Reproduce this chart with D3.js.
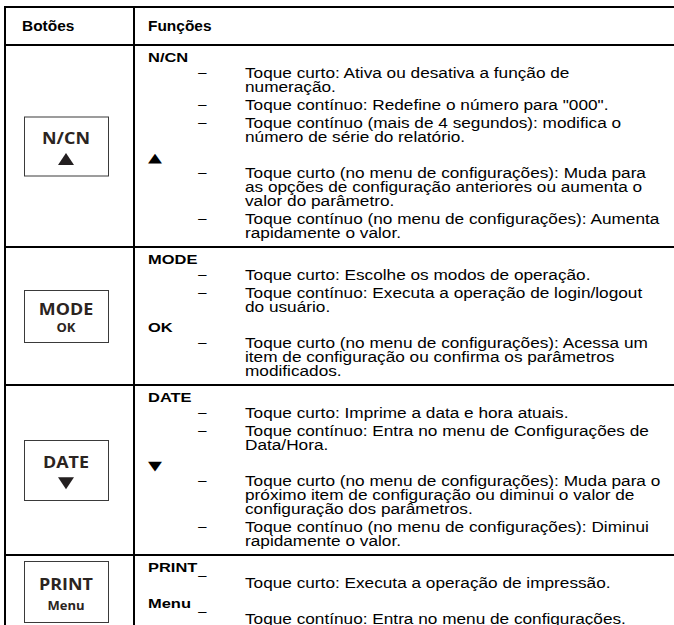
<!DOCTYPE html>
<html><head><meta charset="utf-8">
<script src="https://cdn.jsdelivr.net/npm/d3@7"></script>
<style>html,body{margin:0;padding:0;background:#fff;}svg{display:block;}</style>
</head><body>
<svg id="c" width="674" height="625"></svg>
<script>
// ---------- data ----------
const colHeaders = ["Botões", "Funções"];
const buttonTop = ["N/CN", "MODE", "DATE", "PRINT"];
const buttonBottom = ["▲", "OK", "▼", "Menu"];
const functionKeys = [["N/CN", "▲"], ["MODE", "OK"], ["DATE", "▼"], ["PRINT", "Menu"]];
const functionItems = [
  [
    [["Toque curto: Ativa ou desativa a função de", "numeração."],
     ["Toque contínuo: Redefine o número para \"000\"."],
     ["Toque contínuo (mais de 4 segundos): modifica o", "número de série do relatório."]],
    [["Toque curto (no menu de configurações): Muda para", "as opções de configuração anteriores ou aumenta o", "valor do parâmetro."],
     ["Toque contínuo (no menu de configurações): Aumenta", "rapidamente o valor."]]
  ],
  [
    [["Toque curto: Escolhe os modos de operação."],
     ["Toque contínuo: Executa a operação de login/logout", "do usuário."]],
    [["Toque curto (no menu de configurações): Acessa um", "item de configuração ou confirma os parâmetros", "modificados."]]
  ],
  [
    [["Toque curto: Imprime a data e hora atuais."],
     ["Toque contínuo: Entra no menu de Configurações de", "Data/Hora."]],
    [["Toque curto (no menu de configurações): Muda para o", "próximo item de configuração ou diminui o valor de", "configuração dos parâmetros."],
     ["Toque contínuo (no menu de configurações): Diminui", "rapidamente o valor."]]
  ],
  [
    [["Toque curto: Executa a operação de impressão."]],
    [["Toque contínuo: Entra no menu de configurações."]]
  ]
];

// ---------- layout ----------
const W = 674, H = 625;
const X_LEFT = 5, X_DIV = 134, X_RIGHT = 680;
const Y_TOP = 7, Y_HEAD = 45;
const X_KEY = 148, X_DASH = 197, X_TEXT = 245;
const PAD_TOP = 17, GAP_KEY_ITEM = 16, GAP_ITEM = 18, GAP_CONT = 14, GAP_ITEM_KEY = 20, PAD_BOTTOM = 9;
const BOX_X = 24, BOX_W = 84;
const boxHeights = [59, 52, 60, 61];
const dashRaise = [0, 0, 0, 7];
const FONT = "'Liberation Sans', Arial, Helvetica, sans-serif";
const BTN_FONT = "'Open Sans', 'Noto Sans', sans-serif";
const SX_BODY = 1.23;

const svg = d3.select("#c");
svg.append("rect").attr("width", W).attr("height", H).attr("fill", "#fff");

function stext(g, x, y, str, size, sx, weight, family, fill) {
  return g.append("text")
    .attr("transform", `translate(${x},${y}) scale(${sx},1)`)
    .attr("font-family", family || FONT)
    .attr("font-size", size)
    .attr("font-weight", weight || "normal")
    .attr("fill", fill || "#000")
    .text(str);
}

// compute rows
const rows = [];
let cursor = Y_HEAD;
functionKeys.forEach((keys, r) => {
  const lines = [];
  let y = cursor + PAD_TOP;
  keys.forEach((k, ki) => {
    if (ki > 0) y += GAP_ITEM_KEY;
    lines.push({type: "key", text: k, y});
    functionItems[r][ki].forEach((item, ii) => {
      y += (ii === 0) ? GAP_KEY_ITEM : GAP_ITEM;
      item.forEach((ln, li) => {
        if (li > 0) y += GAP_CONT;
        lines.push({type: li === 0 ? "item" : "cont", text: ln, y});
      });
    });
  });
  const bottom = y + PAD_BOTTOM;
  rows.push({top: cursor, bottom, lines});
  cursor = bottom;
});

const gText = svg.append("g");
// header
stext(gText, 22, 31, colHeaders[0], 15, 1.03, "bold");
stext(gText, X_KEY, 31, colHeaders[1], 15, 1.03, "bold");

rows.forEach((row, r) => {
  row.lines.forEach(l => {
    if (l.type === "key") {
      if (l.text === "▲" || l.text === "▼") {
        stext(gText, X_KEY, l.y, l.text, 13, 1.4, "normal", "'DejaVu Sans', sans-serif");
      } else {
        stext(gText, X_KEY, l.y, l.text, 13.5, 1.22, "bold");
      }
    } else {
      if (l.type === "item") stext(gText, X_DASH, l.y - dashRaise[r], "−", 14, SX_BODY);
      stext(gText, X_TEXT, l.y, l.text, 14, SX_BODY);
    }
  });
  // button box
  const bh = boxHeights[r];
  const cy = (row.top + row.bottom) / 2;
  const by = Math.min(cy - bh / 2, H - bh - 3);
  const gb = svg.append("g").attr("transform", `translate(${BOX_X},${by})`);
  gb.append("rect").attr("x", 0.5).attr("y", 0.5).attr("width", BOX_W).attr("height", bh)
    .attr("fill", "#fff").attr("stroke", "#3a3a3a").attr("stroke-width", 1);
  const cx = BOX_W / 2;
  gb.append("text").attr("x", cx).attr("y", bh * 0.37 + 6)
    .attr("text-anchor", "middle").attr("font-family", BTN_FONT).attr("font-weight", "bold")
    .attr("font-size", 16).attr("fill", "#2b2421")
    .attr("transform", `translate(${cx},0) scale(1.12,1) translate(${-cx},0)`)
    .text(buttonTop[r]);
  const sub = buttonBottom[r];
  if (sub === "▲" || sub === "▼") {
    const ty = bh * 0.72, tw = 16, th = 12;
    const pts = sub === "▲"
      ? [[cx - tw / 2, ty + th / 2], [cx + tw / 2, ty + th / 2], [cx, ty - th / 2]]
      : [[cx - tw / 2, ty - th / 2], [cx + tw / 2, ty - th / 2], [cx, ty + th / 2]];
    gb.append("path").attr("d", d3.line()(pts) + "Z").attr("fill", "#231f20");
  } else {
    gb.append("text").attr("x", cx).attr("y", bh * 0.72 + 5)
      .attr("text-anchor", "middle").attr("font-family", BTN_FONT).attr("font-weight", "bold")
      .attr("font-size", 13).attr("fill", "#2b2421")
      .text(sub);
  }
});

// grid lines
const gLines = svg.append("g").attr("stroke", "#000").attr("stroke-width", 2);
const hys = [Y_TOP, Y_HEAD].concat(rows.map(r => r.bottom));
hys.forEach(y => gLines.append("line").attr("x1", X_LEFT - 1).attr("x2", X_RIGHT).attr("y1", y).attr("y2", y));
[X_LEFT, X_DIV].forEach(x => gLines.append("line").attr("x1", x).attr("x2", x).attr("y1", Y_TOP - 1).attr("y2", Math.max(H, rows[rows.length - 1].bottom)));
</script>
</body></html>
